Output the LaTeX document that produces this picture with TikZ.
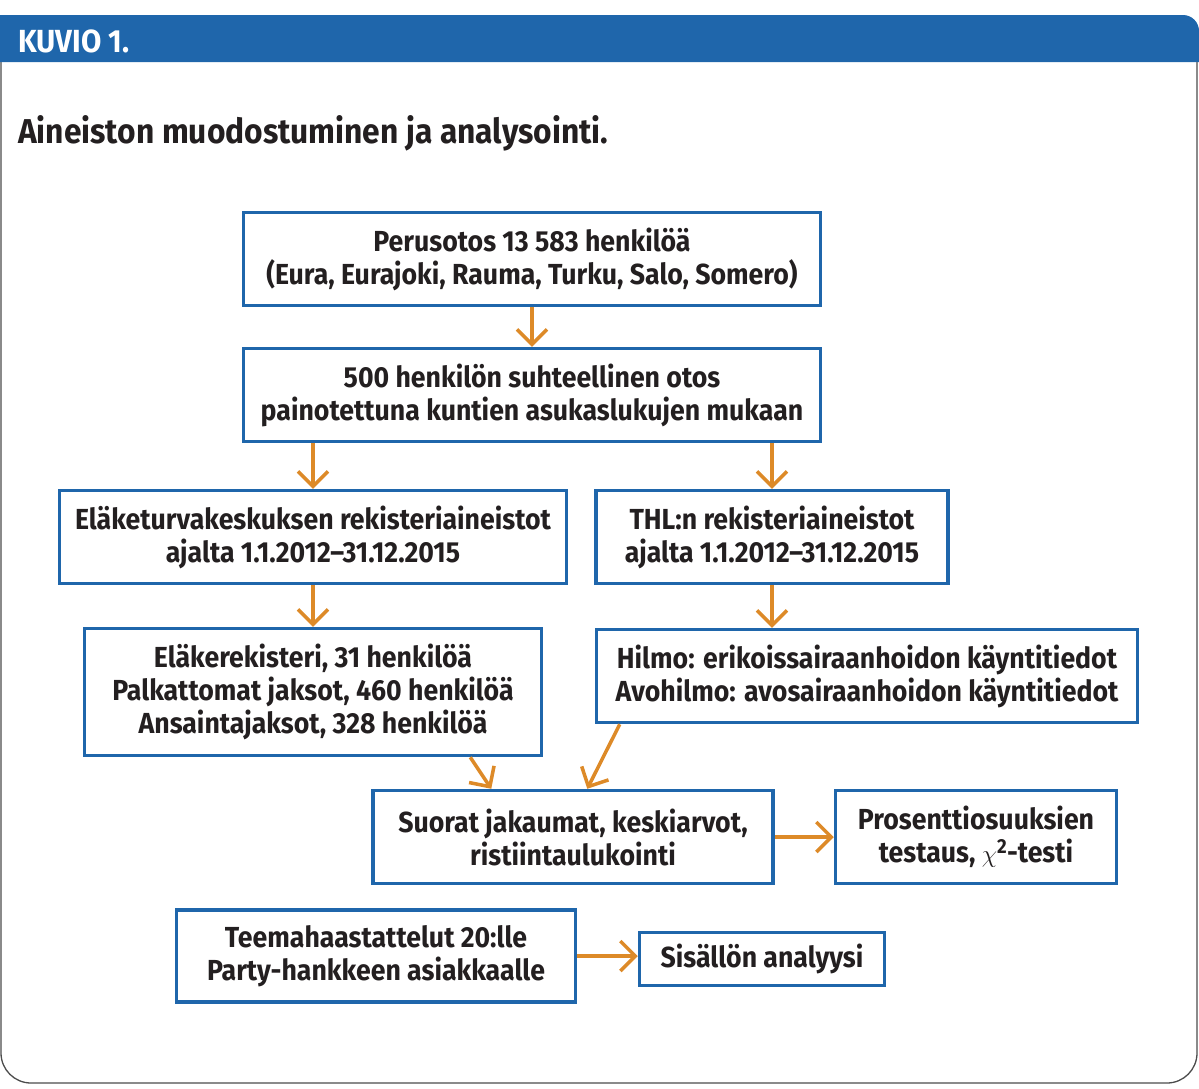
\documentclass[tikz,border=0pt]{standalone}
\usepackage{fontspec}
\setmainfont{Fira Sans}[FakeStretch=0.92]
\usepackage{tikz}
\usetikzlibrary{arrows.meta}
\definecolor{kuvioblue}{RGB}{31,102,171}
\definecolor{arroworange}{RGB}{221,138,40}
\definecolor{inkgray}{RGB}{35,31,32}

\begin{document}
\begin{tikzpicture}[x=1pt, y=-1pt,
  box/.style={draw=kuvioblue, line width=3.5pt, fill=white, align=center,
    inner sep=0pt, text=inkgray, font=\fontsize{29}{33}\selectfont\bfseries},
  flow/.style={draw=arroworange, line width=3.5pt,
    -{Straight Barb[length=15pt,width=30pt]}}]
  \useasboundingbox (0,0) rectangle (1199,1088);
  % frame and header
  \draw[gray!60!black, line width=1.3pt] (1,62) [rounded corners=30pt] -- (1,1083) -- (1197,1083) [sharp corners] -- (1197,62);
  \fill[kuvioblue] (0,62) -- (0,15) [rounded corners=16pt] -- (1199,15) [sharp corners] -- (1199,62) -- cycle;
  \node[anchor=base west, inner sep=0pt, text=white, font=\fontsize{32}{32}\selectfont\bfseries] (KV) at (18,52) {KUVIO 1.};
  \node[anchor=base west, inner sep=0pt, text=inkgray, font=\fontsize{34.5}{35}\selectfont\bfseries] (TT) at (18,143) {Aineiston muodostuminen ja analysointi.};
  % boxes
  \node[box, minimum width=577pt, minimum height=93pt] (T) at (532,259) {Perusotos 13 583 henkilöä\\(Eura, Eurajoki, Rauma, Turku, Salo, Somero)};
  \node[box, minimum width=577pt, minimum height=93pt] (MT) at (532,395) {500 henkilön suhteellinen otos\\painotettuna kuntien asukaslukujen mukaan};
  \node[box, minimum width=507pt, minimum height=93pt] (LM) at (313,537) {Eläketurvakeskuksen rekisteriaineistot\\ajalta 1.1.2012–31.12.2015};
  \node[box, minimum width=352pt, minimum height=93pt] (RM) at (772,537) {THL:n rekisteriaineistot\\ajalta 1.1.2012–31.12.2015};
  \node[box, minimum width=457pt, minimum height=127pt] (LB) at (313,692) {Eläkerekisteri, 31 henkilöä\\Palkattomat jaksot, 460 henkilöä\\Ansaintajaksot, 328 henkilöä};
  \node[box, minimum width=541pt, minimum height=93pt] (RB) at (867,676) {Hilmo: erikoissairaanhoidon käyntitiedot\\Avohilmo: avosairaanhoidon käyntitiedot};
  \node[box, minimum width=400pt, minimum height=93pt] (C) at (573,837) {Suorat jakaumat, keskiarvot,\\ristiintaulukointi};
  \node[box, minimum width=281pt, minimum height=93pt] (CR) at (976,837) {Prosenttiosuuksien\\testaus, $\chi$\textsuperscript{2}-testi};
  \node[box, minimum width=399pt, minimum height=92pt] (BL) at (376,956) {Teemahaastattelut 20:lle\\Party-hankkeen asiakkaalle};
  \node[box, minimum width=245pt, minimum height=53pt] (BR) at (762,959) {Sisällön analyysi};
  % arrows
  \draw[flow] (T) -- (MT);
  \draw[flow] (MT.south -| LM.north) -- (LM);
  \draw[flow] (MT.south -| RM.north) -- (RM);
  \draw[flow] (LM) -- (LB);
  \draw[flow] (RM.south) -- (RM.south |- RB.north);
  \draw[flow] ([xshift=-73pt]LB.south east) -- ([xshift=120pt]C.north west);
  \draw[flow] ([xshift=25pt]RB.south west) -- ([xshift=216pt]C.north west);
  \draw[flow] (C) -- (CR);
  \draw[flow] (BL) -- (BR.west |- BL.east);
\end{tikzpicture}
\end{document}
